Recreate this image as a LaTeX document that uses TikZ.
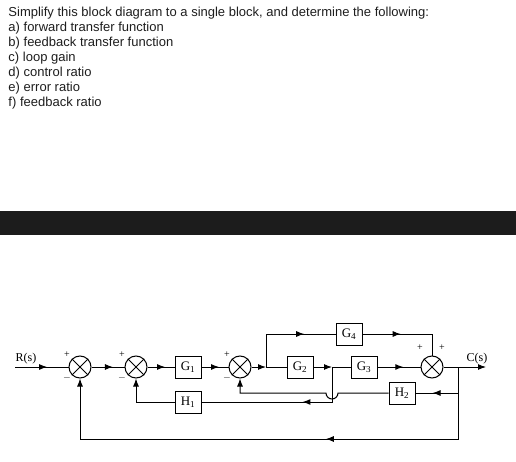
\documentclass[tikz,border=0pt]{standalone}
\usepackage{fontspec}
\setmainfont{Liberation Serif}
\newfontfamily\headfont{Liberation Sans}
\usetikzlibrary{arrows.meta,calc,decorations.markings}

\begin{document}
\begin{tikzpicture}[x=1pt, y=-1pt, >={Latex[length=8pt,width=6pt]}, line width=1pt,
  blk/.style={draw, minimum width=26pt, minimum height=22pt, inner sep=0pt, font=\fontsize{13}{13}\selectfont},
  summer/.style={draw, circle, minimum size=22pt, inner sep=0pt},
  sgn/.style={font=\fontsize{10}{10}\selectfont, inner sep=0pt},
  marrow/.style={postaction={decorate}, decoration={markings, mark=at position #1 with {\arrow{>}}}}]
\definecolor{Ink}{HTML}{1E1E1E}\definecolor{Band}{HTML}{1C1C1C}
\useasboundingbox (0,0) rectangle (516,462); \fill[white] (0,0) rectangle (516,462);
\node[anchor=north west, align=left, inner sep=0pt, text=Ink, font=\headfont\fontsize{13}{15}\selectfont] (task) at (8,6.5)
  {Simplify this block diagram to a single block, and determine the following:\\a) forward transfer function\\b) feedback transfer function\\c) loop gain\\d) control ratio\\e) error ratio\\f) feedback ratio};
\fill[Band] (0,211) rectangle (516,235);
% summing points and blocks
\node[summer] (s1) at (80,367) {}; \node[summer] (s2) at (136,367) {}; \node[summer] (s3) at (240,367) {}; \node[summer] (s4) at (432,367) {};
\foreach \s in {s1,s2,s3,s4} \draw (\s.45) -- (\s.225) (\s.135) -- (\s.315);
\node[blk] (g1) at (188,367) {G\textsubscript{1}}; \node[blk] (g2) at (300,367) {G\textsubscript{2}};
\node[blk] (g3) at (364,367) {G\textsubscript{3}}; \node[blk] (g4) at (349,334) {G\textsubscript{4}};
\node[blk] (h1) at (188,402) {H\textsubscript{1}}; \node[blk] (h2) at (402,393) {H\textsubscript{2}};
\foreach \s/\x in {s1/67,s2/122,s3/227} {\node[sgn] (\s p) at (\x,355) {+}; \node[sgn] (\s m) at (\x,378) {$-$};}
\node[sgn] (s4l) at (420,348) {+}; \node[sgn] (s4r) at (442,348) {+};
\coordinate (in) at (15,367); \coordinate (b1) at (266,367); \coordinate (b2) at (332,367);
\coordinate (b3) at (458,367); \coordinate (out) at (486,367); \coordinate (bot) at (80,439);
\node[anchor=base, font=\fontsize{12}{12}\selectfont] (rs) at (26,361) {R(s)};
\node[anchor=base, font=\fontsize{12}{12}\selectfont] (cs) at (477,361) {C(s)};
% forward path
\draw[marrow=0.6] (in) -- (s1.west);
\draw[marrow=0.65] (s1.east) -- (s2.west);
\draw[marrow=0.65] (s2.east) -- (g1.west);
\draw[marrow=0.65] (g1.east) -- (s3.west);
\draw[->] (s3.east) -- (b1); \draw (b1) -- (g2.west);
\draw[->] (g2.east) -- (b2); \draw (b2) -- (g3.west);
\draw[marrow=0.6] (g3.east) -- (s4.west);
\draw (s4.east) -- (b3); \draw[->] (b3) -- (out);
\draw (b1) -- (b1 |- g4); \draw[marrow=0.55] (b1 |- g4) -- (g4.west);
\draw[marrow=0.55] (g4.east) -- (g4 -| s4); \draw (g4 -| s4) -- (s4.north);
% feedback paths
\draw (b3) -- (b3 |- h2); \draw[marrow=0.6] (b3 |- h2) -- (h2.east);
\draw[->] (h2.west) -- ($(b2 |- h2)+(6,0)$) arc[start angle=0, end angle=180, radius=6] -- (s3 |- h2) -- (s3.south);
\draw[marrow=0.39] (b2) -- (b2 |- h1) -- (h1.east);
\draw[->] (h1.west) -| (s2.south);
\draw[->, marrow=0.4] (b3) -- (b3 |- bot) -| (s1.south);
\end{tikzpicture}
\end{document}
